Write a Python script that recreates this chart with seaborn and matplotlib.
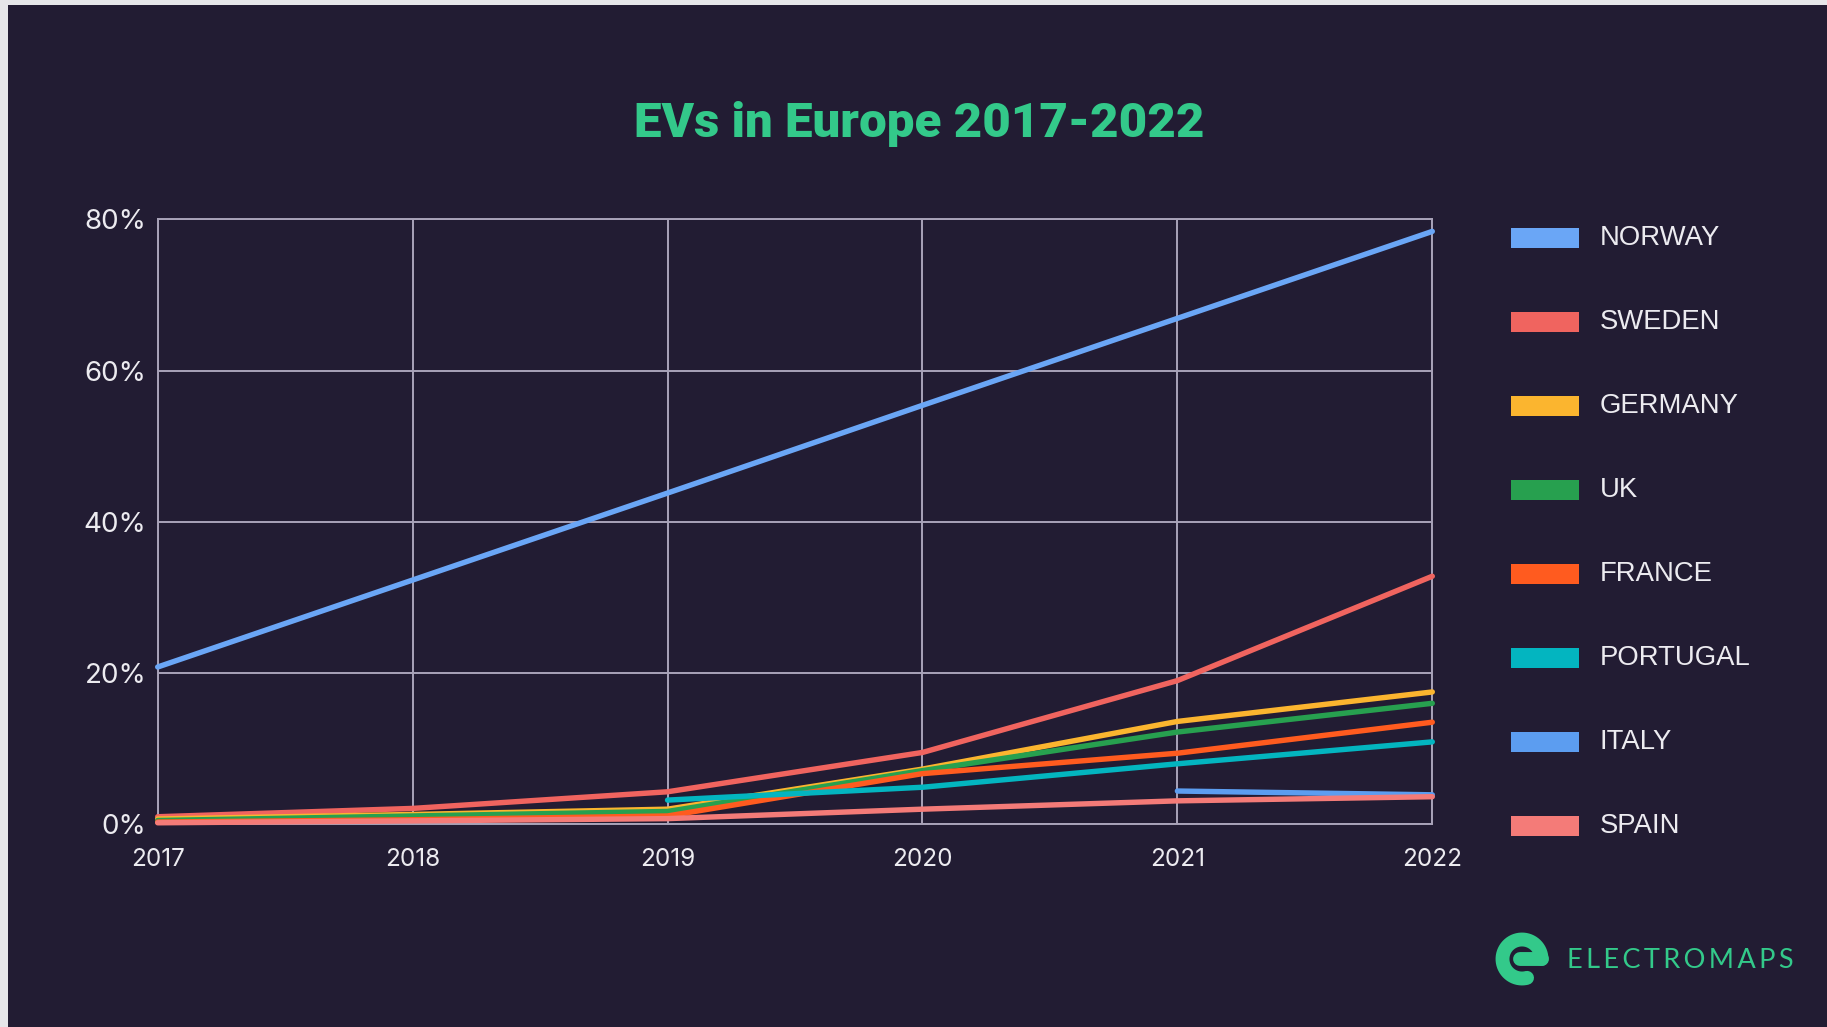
import numpy as np
import pandas as pd
import matplotlib
matplotlib.use("Agg")
import matplotlib.pyplot as plt
from matplotlib.patches import Rectangle
import seaborn as sns

# --- data: share of new car sales that are EVs (%) ---
years = [2017, 2018, 2019, 2020, 2021, 2022]
countries = ["NORWAY", "SWEDEN", "GERMANY", "UK", "FRANCE", "PORTUGAL", "ITALY", "SPAIN"]
norway = [20.8, 32.3, 43.8, 55.4, 66.9, 78.4]
sweden = [1.0, 2.1, 4.3, 9.5, 19.0, 32.8]
germany = [0.7, 1.3, 2.0, 7.3, 13.6, 17.5]
uk = [0.5, 1.1, 1.7, 7.1, 12.2, 16.0]
france = [0.3, 0.6, 1.1, 6.7, 9.4, 13.5]
portugal = [np.nan, np.nan, 3.2, 4.9, 8.0, 10.9]
italy = [np.nan, np.nan, np.nan, np.nan, 4.4, 3.9]
spain = [0.2, 0.45, 0.75, 2.0, 3.1, 3.65]
y_ticks = [0, 20, 40, 60, 80]
y_tick_labels = ["0%", "20%", "40%", "60%", "80%"]

series = [norway, sweden, germany, uk, france, portugal, italy, spain]
colors = ["#6aa6f6", "#f0645f", "#fbb52f", "#27a04f", "#ff5b1f", "#03b5c0", "#5c9df0", "#f47b78"]

df = pd.DataFrame(
    [(c, y, v) for c, vals in zip(countries, series) for y, v in zip(years, vals)],
    columns=["country", "year", "share"],
).dropna()

BG = "#221c33"
GRID = "#a9a3b9"
TEXT = "#ecebf0"
GREEN = "#33c98a"

sns.set_theme(style="dark")
plt.rcParams["font.family"] = ["Inter", "DejaVu Sans"]

W, H = 1827, 1027
fig = plt.figure(figsize=(W / 100, H / 100), dpi=100, facecolor=BG)

# light frame at the top and left edges
fig.patches.append(Rectangle((0, 1 - 5 / H), 1, 5 / H, transform=fig.transFigure,
                             facecolor="#e6e6e9", edgecolor="none"))
fig.patches.append(Rectangle((0, 0), 8 / W, 1, transform=fig.transFigure,
                             facecolor="#e6e6e9", edgecolor="none"))

x0, x1 = 157.7, 1432.3
y0, y1 = 824.3, 219.3
ax = fig.add_axes([x0 / W, 1 - y0 / H, (x1 - x0) / W, (y0 - y1) / H])
ax.set_facecolor(BG)

sns.lineplot(data=df, x="year", y="share", hue="country", hue_order=countries,
             palette=colors, linewidth=3.9, legend=False, ax=ax,
             solid_capstyle="round")
for ln in ax.get_lines():
    ln.set_clip_on(False)
    ln.set_zorder(3)

ax.set_xlim(2017, 2022)
ax.set_ylim(0, 80)
ax.set_xticks(years)
ax.set_yticks(y_ticks)
ax.set_yticklabels(y_tick_labels)
ax.set_xlabel("")
ax.set_ylabel("")
ax.grid(True, color=GRID, linewidth=1.4)
ax.set_axisbelow(True)
for sp in ax.spines.values():
    sp.set_visible(True)
    sp.set_color(GRID)
    sp.set_linewidth(1.4)
ax.tick_params(axis="y", colors=TEXT, labelsize=20, length=0, pad=8)
ax.tick_params(axis="x", colors=TEXT, labelsize=17.5, length=0, pad=17)

# title
fig.text(919 / W, 1 - 124 / H, "EVs in Europe 2017-2022", ha="center", va="center",
         color=GREEN, fontsize=35.5, fontweight="heavy", family=["Roboto", "DejaVu Sans"])

# legend: colour swatch + country name per row
row0, step = 237.7, 84.1
for i, (name, col) in enumerate(zip(countries, colors)):
    yc = row0 + i * step
    fig.patches.append(Rectangle((1511 / W, 1 - (yc + 10) / H), 68 / W, 20 / H,
                                 transform=fig.transFigure, facecolor=col, edgecolor="none"))
    fig.text(1600 / W, 1 - yc / H, name, ha="left", va="center", color=TEXT, fontsize=19.8,
             family=["Liberation Sans", "DejaVu Sans"])

# brand mark
lax = fig.add_axes([1490 / W, 1 - 991 / H, 64 / W, 64 / H])
lax.set_xlim(-32, 32)
lax.set_ylim(-32, 32)
lax.axis("off")
t = np.radians(np.linspace(0, 285, 200))
r = 19.5
lax.plot(r * np.cos(t), r * np.sin(t), color=GREEN, linewidth=10, solid_capstyle="round")
lax.plot([-2, r], [0, 0], color=GREEN, linewidth=10, solid_capstyle="round")
fig.text(1567 / W, 1 - 960 / H, "\u2009".join("ELECTROMAPS"),
         ha="left", va="center", color=GREEN, fontsize=19.5,
         family=["Lato", "DejaVu Sans"], fontweight="normal")

fig.savefig("out.png", dpi=100, facecolor=BG)
